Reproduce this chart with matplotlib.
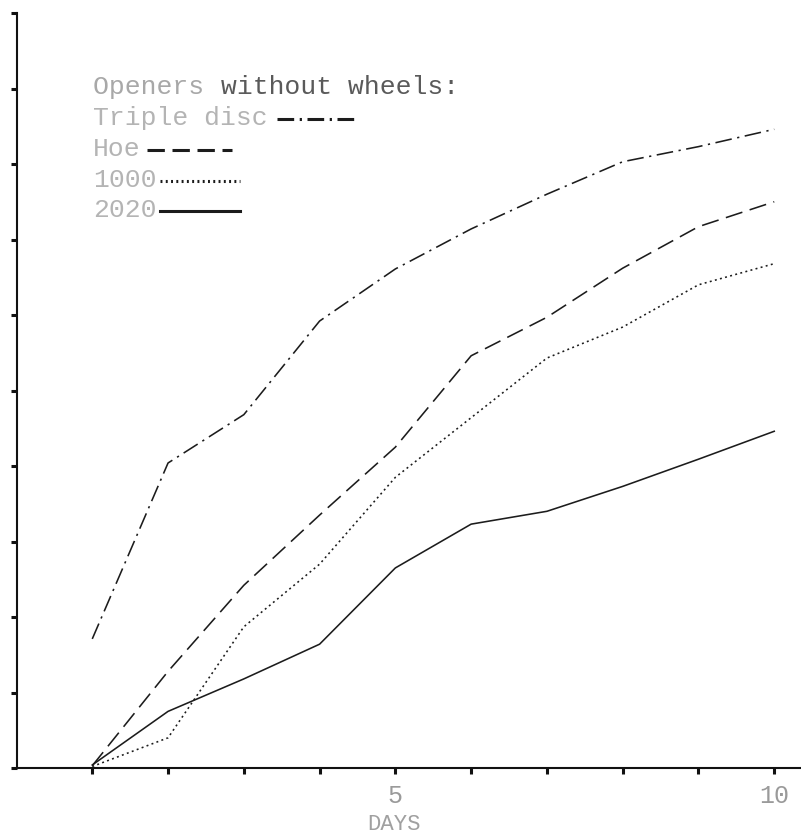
import matplotlib
matplotlib.use("Agg")
import matplotlib.pyplot as plt
from matplotlib.lines import Line2D

plt.rcParams['lines.scale_dashes'] = False

days = [1, 2, 3, 4, 5, 6, 7, 8, 9, 10]
triple_disc = [1.71, 4.04, 4.68, 5.92, 6.61, 7.14, 7.60, 8.03, 8.23, 8.46]
hoe = [0.03, 1.28, 2.42, 3.35, 4.25, 5.46, 5.97, 6.62, 7.17, 7.50]
s1000 = [0.02, 0.40, 1.87, 2.70, 3.85, 4.64, 5.43, 5.84, 6.40, 6.68]
s2020 = [0.04, 0.75, 1.18, 1.64, 2.65, 3.23, 3.40, 3.73, 4.09, 4.46]
legend_title = ["Openers ", "without wheels:"]
labels = ["Triple disc", "Hoe", "1000", "2020"]
xtick_pos = [1, 2, 3, 4, 5, 6, 7, 8, 9, 10]
xtick_labels = ["", "", "", "", "5", "", "", "", "", "10"]
ytick_pos = [0, 1, 2, 3, 4, 5, 6, 7, 8, 9, 10]

W, H = 801, 837
fig = plt.figure(figsize=(W / 100, H / 100), dpi=100)
ax = fig.add_axes([16.5 / W, 68 / H, (800 - 16.5) / W, 755 / H])
ax.set_xlim(0, 10.34)
ax.set_ylim(0, 10)

LC = "#1c1c1c"
styles = [
    dict(dashes=(12, 4, 1.6, 4)),
    dict(dashes=(12.5, 5.5)),
    dict(dashes=(1.4, 2.4)),
    dict(linestyle="-"),
]
series = [triple_disc, hoe, s1000, s2020]
for ys, st in zip(series, styles):
    ax.plot(days, ys, color=LC, lw=1.15, clip_on=False, **st)

for s in ["top", "right"]:
    ax.spines[s].set_visible(False)
for s in ["left", "bottom"]:
    ax.spines[s].set_color("#111111")
    ax.spines[s].set_linewidth(1.5)

mono = "Liberation Mono"
ax.set_xticks(xtick_pos)
ax.set_xticklabels(xtick_labels, fontfamily=mono, fontsize=18, color="#9a9a9a")
ax.set_yticks(ytick_pos)
ax.set_yticklabels([])
ax.tick_params(axis="both", direction="out", length=4, width=2.2, color="#111111")
ax.tick_params(axis="x", pad=7)
ax.set_xlabel("DAYS", fontfamily=mono, fontsize=16, color="#a0a0a0", labelpad=6)
ax.xaxis.set_label_coords(5 / 10.34 - 0.002, -0.06)

# legend drawn as typewritten text
def fx(px):
    return px / W

def fy(py):
    return 1 - py / H

x0 = 93
cw = 16.0
fig.text(fx(x0), fy(87), legend_title[0], family=mono, fontsize=19, color="#a8a8a8",
         va="center", ha="left")
fig.text(fx(x0 + cw * len(legend_title[0])), fy(87), legend_title[1], family=mono,
         fontsize=19, color="#5a5a5a", va="center", ha="left")
rows = [118, 149, 180, 210]
line_spans = [(277, 358), (147, 232), (160, 240), (160, 240)]
for lab, py, (a, b), st in zip(labels, rows, line_spans, styles):
    fig.text(fx(x0), fy(py), lab, family=mono, fontsize=19, color="#b4b4b4",
             va="center", ha="left")
    fig.add_artist(Line2D([fx(a), fx(b)], [fy(py + 2), fy(py + 2)],
                          transform=fig.transFigure, color=LC, lw=2.2, **st))

fig.savefig("out.png", dpi=100)
